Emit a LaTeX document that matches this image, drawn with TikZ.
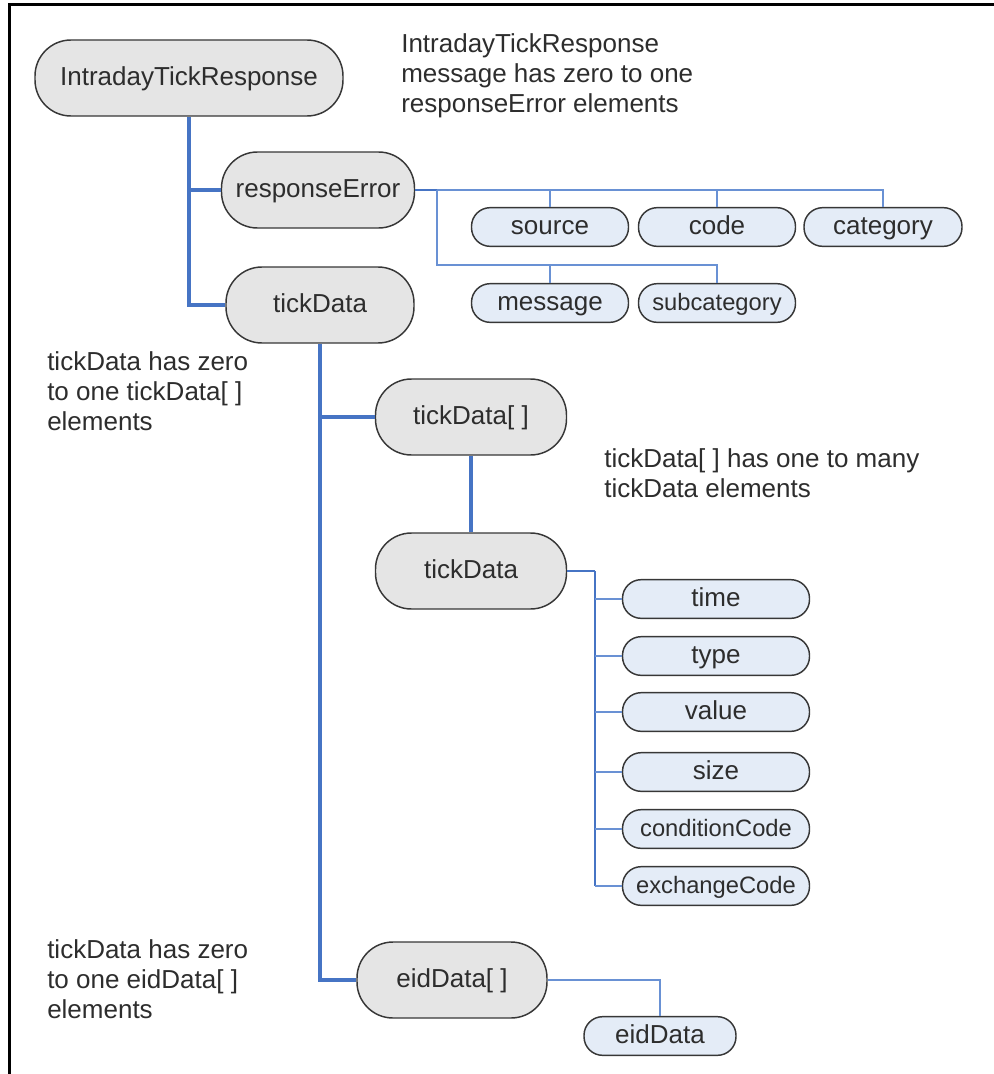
\documentclass[tikz,border=0pt]{standalone}
\usepackage{fontspec}
\setmainfont{Liberation Sans}
\definecolor{graybox}{RGB}{229,229,229}
\definecolor{bluebox}{RGB}{228,236,247}
\definecolor{boxline}{RGB}{55,55,55}
\definecolor{txt}{RGB}{45,45,45}
\definecolor{conn}{RGB}{70,116,196}
\definecolor{connlight}{RGB}{105,145,212}
\tikzset{
  elem/.style={draw=boxline, line width=1.1pt, inner sep=0pt, text=txt,
    text height=14pt, text depth=3pt},
  bignode/.style={elem, fill=graybox, rounded corners=27pt, minimum height=57pt,
    font=\fontsize{19.5}{23}\selectfont},
  leaf/.style={elem, fill=bluebox, rounded corners=14pt, minimum height=29pt,
    font=\fontsize{19.5}{23}\selectfont},
  smallleaf/.style={leaf, font=\fontsize{17.8}{21}\selectfont},
  note/.style={anchor=west, align=left, inner sep=0pt, text=txt,
    font=\fontsize{19.5}{22.5}\selectfont},
  trunk/.style={draw=conn, line width=3pt},
  branch/.style={draw=conn, line width=2.1pt},
  twig/.style={draw=connlight, line width=1.4pt},
}
\begin{document}
\begin{tikzpicture}[x=0.75pt, y=-0.75pt]
\useasboundingbox (0,0) rectangle (994,1074);
% frame on the left and top edges
\draw[line width=2.4pt] (9.5,1074) -- (9.5,4.5) -- (994,4.5);

% top level
\node[bignode, minimum width=231pt] (root) at (189,78) {IntradayTickResponse};
\node[bignode, minimum width=144.75pt] (respErr) at (318,190) {responseError};
\node[bignode, minimum width=141pt] (tick1) at (320,305) {tickData};

% responseError children
\node[leaf, minimum width=117.75pt] (source) at (550,227) {source};
\node[leaf, minimum width=117.75pt] (code) at (717,227) {code};
\node[leaf, minimum width=118.5pt] (category) at (883,227) {category};
\node[leaf, minimum width=117.75pt] (message) at (550,303) {message};
\node[smallleaf, minimum width=117.75pt] (subcat) at (717,303) {subcategory};

% tickData branch
\node[bignode, minimum width=143.25pt] (tickArr) at (471,417) {tickData[ ]};
\node[bignode, minimum width=143.25pt] (tick2) at (471,571) {tickData};
\node[bignode, minimum width=142.5pt] (eidArr) at (452,980) {eidData[ ]};

\node[leaf, minimum width=140.25pt] (time) at (716,599) {time};
\node[leaf, minimum width=140.25pt] (type) at (716,656) {type};
\node[leaf, minimum width=140.25pt] (value) at (716,712) {value};
\node[leaf, minimum width=140.25pt] (size) at (716,772) {size};
\node[smallleaf, minimum width=140.25pt] (condCode) at (716,829) {conditionCode};
\node[smallleaf, minimum width=140.25pt] (exchCode) at (716,886) {exchangeCode};
\node[leaf, minimum width=114pt] (eid) at (660,1036) {eidData};

% annotations
\node[note] (n1) at (401,76) {IntradayTickResponse\\message has zero to one\\responseError elements};
\node[note] (n2) at (47,391) {tickData has zero\\to one tickData[ ]\\elements};
\node[note] (n3) at (604,473) {tickData[ ] has one to many\\tickData elements};
\node[note] (n4) at (47,979) {tickData has zero\\to one eidData[ ]\\elements};

% junction points
\coordinate (j1) at (437,190);
\coordinate (j2) at (437,265);
\coordinate (j3) at (595,571);

% thick connectors
\draw[trunk] (root.south) -- (root.south |- tick1.west) -- (tick1.west);
\draw[trunk] (root.south |- respErr.west) -- (respErr.west);
\draw[trunk] (tick1.south) -- (tick1.south |- eidArr.west) -- (eidArr.west);
\draw[trunk] (tick1.south |- tickArr.west) -- (tickArr.west);
\draw[trunk] (tickArr.south) -- (tick2.north);

% responseError fields
\draw[branch] (respErr.east) -- (j1);
\draw[twig] (j1) -- (j1 -| category.north) -- (category.north);
\draw[twig] (source.north) -- (source.north |- j1);
\draw[twig] (code.north) -- (code.north |- j1);
\draw[twig] (j1) -- (j2) -- (j2 -| subcat.north) -- (subcat.north);
\draw[twig] (message.north) -- (message.north |- j2);

% tickData fields
\draw[branch] (tick2.east) -- (j3);
\draw[branch] (j3) -- (j3 |- exchCode.west);
\foreach \f in {time,type,value,size,condCode,exchCode}
  \draw[twig] (j3 |- \f.west) -- (\f.west);

% eidData
\draw[twig] (eidArr.east) -- (eidArr.east -| eid.north) -- (eid.north);
\end{tikzpicture}
\end{document}
